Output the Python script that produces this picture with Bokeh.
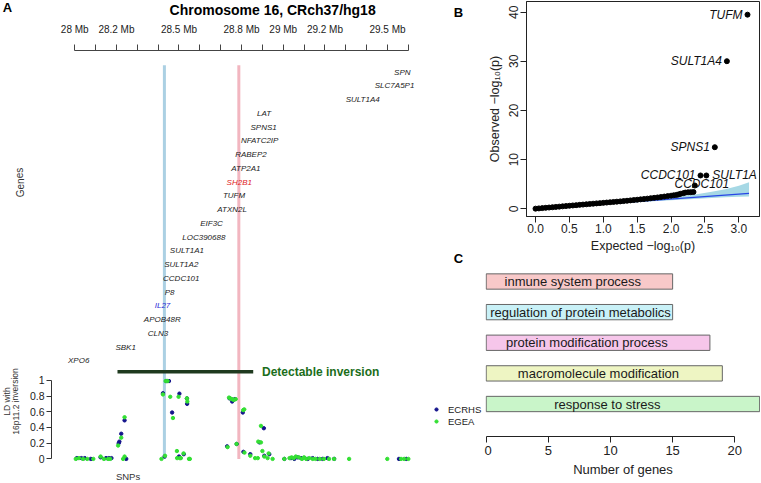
from bokeh.plotting import figure
from bokeh.models import (Range1d, LinearAxis, FixedTicker, PrintfTickFormatter,
                          Legend, LegendItem, ColumnDataSource)
from bokeh.layouts import row, column
from bokeh.embed import file_html
from bokeh.resources import INLINE
from bokeh.core.properties import value

FONT = "Liberation Sans"

# ---------------- Panel A data ----------------
ruler_major = [28.0, 28.2, 28.5, 28.8, 29.0, 29.2, 29.5]
ruler_minor = [28.1, 28.3, 28.4, 28.6, 28.7, 28.9, 29.1, 29.3, 29.4, 29.6]
genes = ["SPN", "SLC7A5P1", "SULT1A4", "LAT", "SPNS1", "NFATC2IP", "RABEP2", "ATP2A1",
         "SH2B1", "TUFM", "ATXN2L", "EIF3C", "LOC390688", "SULT1A1", "SULT1A2", "CCDC101",
         "P8", "IL27", "APOB48R", "CLN3", "SBK1", "XPO6"]
gene_pos = [29.571, 29.534, 29.381, 28.908, 28.906, 28.887, 28.845, 28.821,
            28.789, 28.764, 28.755, 28.656, 28.619, 28.538, 28.511, 28.511,
            28.455, 28.421, 28.420, 28.399, 28.244, 28.019]
gene_highlight = {"SH2B1": "#e02424", "IL27": "#2b2bd6"}
breakpoints = [28.43, 28.787]
breakpoint_colors = ["#abd0e3", "#f2b6c0"]
inversion_span = [28.205, 28.856]
ld_ticks = [0, 0.2, 0.4, 0.6, 0.8, 1]

ecrhs_pos = [28.010, 28.032, 28.048, 28.077, 28.124, 28.150, 28.163, 28.176,
             28.211, 28.214, 28.223, 28.239, 28.247,
             28.423, 28.431, 28.439, 28.452, 28.467, 28.502, 28.500, 28.523, 28.538, 28.539,
             28.731, 28.742, 28.755, 28.760, 28.768, 28.777, 28.806, 28.809, 28.842,
             28.886, 28.907, 28.909, 28.933,
             29.005, 29.037, 29.053, 29.069, 29.085, 29.117, 29.141, 29.165, 29.189,
             29.212, 29.244, 29.555, 29.590]
ecrhs_ld = [0.01, 0.01, 0.01, 0.00, 0.02, 0.01, 0.01, 0.01,
            0.20, 0.22, 0.32, 0.49, 0.00,
            0.835, 0.03, 0.99, 0.99, 0.59, 0.83, 0.03, 0.06, 0.77, 0.70,
            0.16, 0.77, 0.73, 0.75, 0.76, 0.19, 0.59, 0.09, 0.06,
            0.21, 0.39, 0.04, 0.06,
            0.00, 0.01, 0.00, 0.02, 0.01, 0.00, 0.01, 0.00, 0.00,
            0.01, 0.00, 0.00, 0.00]
egea_pos = [28.005, 28.020, 28.040, 28.060, 28.089, 28.124, 28.140, 28.160, 28.170,
            28.208, 28.223, 28.239, 28.232, 28.239,
            28.416, 28.423, 28.433, 28.436, 28.445, 28.458, 28.471, 28.498, 28.490, 28.491,
            28.504, 28.509, 28.522, 28.538, 28.540, 28.548, 28.552,
            28.733, 28.740, 28.746, 28.754, 28.762, 28.772, 28.776, 28.808, 28.813,
            28.814, 28.842,
            28.865, 28.880, 28.893, 28.893, 28.878, 28.900, 28.909, 28.925, 28.930, 28.949,
            29.005, 29.030, 29.040, 29.050, 29.060, 29.075, 29.090, 29.100, 29.110,
            29.125, 29.141, 29.155, 29.175, 29.195, 29.220, 29.244, 29.316, 29.499,
            29.565, 29.580, 29.600]
egea_ld = [0.00, 0.01, 0.00, 0.00, 0.00, 0.03, 0.00, 0.00, 0.00,
           0.17, 0.27, 0.53, 0.00, 0.03,
           0.00, 0.82, 0.04, 0.99, 0.99, 0.79, 0.52, 0.79, 0.10, 0.01,
           0.01, 0.01, 0.07, 0.77, 0.73, 0.00, 0.00,
           0.15, 0.78, 0.77, 0.76, 0.75, 0.76, 0.19, 0.62, 0.63,
           0.08, 0.04,
           0.01, 0.22, 0.42, 0.21, 0.01, 0.10, 0.03, 0.01, 0.07, 0.00,
           0.00, 0.01, 0.02, 0.01, 0.03, 0.02, 0.00, 0.02, 0.00,
           0.01, 0.00, 0.00, 0.00, 0.00, 0.00, 0.00, 0.00, 0.00,
           0.00, 0.00, 0.00]

# ---------------- Panel B data ----------------
qq_expected = [0.00, 0.05, 0.10, 0.15, 0.20, 0.25, 0.30, 0.35, 0.40, 0.45, 0.50, 0.55,
               0.60, 0.65, 0.70, 0.75, 0.80, 0.85, 0.90, 0.95, 1.00, 1.05, 1.10, 1.15,
               1.20, 1.25, 1.30, 1.35, 1.40, 1.45, 1.50, 1.55, 1.60, 1.65, 1.70, 1.75,
               1.80, 1.85, 1.90, 1.95, 2.00, 2.04, 2.08, 2.11, 2.14, 2.18, 2.21, 2.25,
               2.29, 2.33]
qq_observed = [0.03, 0.08, 0.14, 0.20, 0.26, 0.32, 0.38, 0.44, 0.50, 0.56, 0.62, 0.68,
               0.74, 0.80, 0.86, 0.92, 0.98, 1.04, 1.10, 1.15, 1.21, 1.27, 1.33, 1.39,
               1.45, 1.51, 1.57, 1.64, 1.71, 1.78, 1.85, 1.92, 1.99, 2.07, 2.15, 2.23,
               2.31, 2.40, 2.49, 2.58, 2.67, 2.75, 2.83, 2.93, 3.05, 3.18, 3.30, 3.36,
               3.38, 3.42]
hit_genes = ["TUFM", "SULT1A4", "SPNS1", "CCDC101", "SULT1A", "CCDC101"]
hit_expected = [3.127, 2.823, 2.645, 2.434, 2.520, 2.350]
hit_observed = [39.5, 30.03, 12.53, 6.78, 6.78, 4.74]
hit_side = ["left", "left", "left", "left", "right", "center"]
band_x = [0.0, 0.5, 1.0, 1.5, 1.8, 2.0, 2.2, 2.4, 2.6, 2.8, 3.0, 3.15]
band_hi = [0.02, 0.56, 1.10, 1.68, 2.05, 2.33, 2.65, 3.00, 3.45, 4.00, 4.70, 5.40]
band_lo = [0.00, 0.45, 0.90, 1.33, 1.58, 1.74, 1.90, 2.05, 2.20, 2.33, 2.45, 2.50]
null_line = [0.0, 3.15]
b_xticks = [0.0, 0.5, 1.0, 1.5, 2.0, 2.5, 3.0]
b_yticks = [0, 10, 20, 30, 40]

# ---------------- Panel C data ----------------
go_terms = ["inmune system process", "regulation of protein metabolics",
            "protein modification process", "macromolecule modification",
            "response to stress"]
go_counts = [15, 15, 18, 19, 22]
go_colors = ["#f8c9c9", "#c9f1f7", "#f6c6ea", "#eef5c3", "#c9f5c9"]
c_xticks = [0, 5, 10, 15, 20]
# where each bar's caption is centred (layout)
go_label_anchor = [6.97, 7.59, 8.10, 9.03, 9.75]

NAVY = "#14148c"
GREEN = "#33e033"
INK = "#222222"


def bare(p):
    p.outline_line_color = None
    p.xgrid.visible = False
    p.ygrid.visible = False
    return p


def txt(p, x, y, t, size, style="normal", angle=0.0, color=INK, align="center", **kw):
    p.text(x=[x], y=[y], text=[t], angle=angle, text_font=value(FONT), text_font_size=size,
           text_font_style=style, text_color=color, text_align=align,
           text_baseline="middle", **kw)


def strip(width, x0):
    return bare(figure(width=width, height=482, x_range=Range1d(x0, x0 + width),
                       y_range=Range1d(482, 0), min_border=0, x_axis_location=None,
                       y_axis_location=None, output_backend="svg", toolbar_location=None))


# ======================= left label strip (panel A) =======================
s1 = strip(26, 0)
txt(s1, 7, 6.5, "A", "13px", "bold", color="#000000")
txt(s1, 19.5, 182, "Genes", "10px", angle=1.5708, color="#333333")
txt(s1, 6.5, 401, "LD with", "8.5px", angle=1.5708, color="#333333")
txt(s1, 15.0, 401, "16p11.2 inversion", "8.5px", angle=1.5708, color="#333333")

# ======================= Panel A =======================
xr_a = Range1d(27.8885, 29.6823)
hd = bare(figure(width=404, height=20, x_range=xr_a, y_range=Range1d(0, 1),
                 min_border_left=24, min_border_right=5, min_border_top=0, min_border_bottom=0,
                 x_axis_location=None, y_axis_location=None,
                 output_backend="svg", toolbar_location=None))
txt(hd, 28.949, 0.52, "Chromosome 16, CRch37/hg18", "14px", "bold", color="#000000")

pa = bare(figure(width=404, height=462, output_backend="svg", toolbar_location=None,
                 x_range=xr_a, y_range=Range1d(29.855, -1.571),
                 x_axis_location=None, y_axis_location=None,
                 min_border_left=24, min_border_right=5, min_border_top=28, min_border_bottom=0))
pa.extra_y_ranges = {"ld": Range1d(-0.300, 5.1937)}

ruler = LinearAxis(ticker=FixedTicker(ticks=ruler_major, minor_ticks=ruler_minor),
                   formatter=PrintfTickFormatter(format="%g Mb"),
                   bounds=(ruler_major[0], ruler_minor[-1]))
ruler.axis_line_color = "#444444"
ruler.major_tick_line_color = "#444444"
ruler.minor_tick_line_color = "#444444"
ruler.major_tick_out = 6
ruler.major_tick_in = 0
ruler.minor_tick_out = 6
ruler.minor_tick_in = 0
ruler.major_label_standoff = 10
ruler.major_label_text_font = FONT
ruler.major_label_text_font_size = "10px"
ruler.major_label_text_color = INK
pa.add_layout(ruler, "above")

ld_axis = LinearAxis(y_range_name="ld", ticker=FixedTicker(ticks=ld_ticks),
                     formatter=PrintfTickFormatter(format="%g"), bounds=(0, 1))
ld_axis.axis_line_color = "#333333"
ld_axis.major_tick_line_color = "#333333"
ld_axis.major_tick_out = 5
ld_axis.major_tick_in = 0
ld_axis.minor_tick_line_color = None
ld_axis.major_label_standoff = 2
ld_axis.major_label_text_font = FONT
ld_axis.major_label_text_font_size = "10.5px"
ld_axis.major_label_text_color = INK
pa.add_layout(ld_axis, "left")

bp_src = ColumnDataSource(dict(x=breakpoints, y0=[-0.5] * len(breakpoints),
                               y1=[28.14] * len(breakpoints), c=breakpoint_colors))
pa.segment(x0="x", y0="y0", x1="x", y1="y1", color="c", line_width=3, source=bp_src)

gene_src = ColumnDataSource(dict(x=gene_pos, y=list(range(len(genes))), t=genes,
                                 c=[gene_highlight.get(g, INK) for g in genes]))
pa.text(x="x", y="y", text="t", text_color="c", source=gene_src, text_font=value(FONT),
        text_font_style="italic", text_font_size="8px", text_align="center",
        text_baseline="middle")

pa.segment(x0=[inversion_span[0]], y0=[1.109], x1=[inversion_span[1]], y1=[1.109],
           y_range_name="ld", color="#1f3a1f", line_width=3.5)
txt(pa, 28.898, 1.109, "Detectable inversion", "12px", "bold", color="#1b6e1b",
    align="left", y_range_name="ld")

ecrhs_src = ColumnDataSource(dict(x=ecrhs_pos, y=ecrhs_ld))
egea_src = ColumnDataSource(dict(x=egea_pos, y=egea_ld))
pa.scatter("x", "y", source=ecrhs_src, y_range_name="ld", size=3.4, color=NAVY)
pa.scatter("x", "y", source=egea_src, y_range_name="ld", size=3.4, color=GREEN)
txt(pa, 28.2555, -0.218, "SNPs", "9.5px", color="#333333", y_range_name="ld")

# ======================= middle label strip (B, C, legend) =======================
s2 = strip(54, 430)
txt(s2, 458, 12, "B", "13px", "bold", color="#000000")
txt(s2, 458, 258, "C", "13px", "bold", color="#000000")
# legend of panel A's LD series (the series' own points fall outside this strip)
r_e = s2.scatter("x", "y", source=ecrhs_src, size=4.5, color=NAVY)
r_g = s2.scatter("x", "y", source=egea_src, size=4.5, color=GREEN)
leg = Legend(items=[LegendItem(label="ECRHS", renderers=[r_e]),
                    LegendItem(label="EGEA", renderers=[r_g])],
             location=(2, 55), orientation="vertical", glyph_width=8, glyph_height=12,
             label_height=12, label_standoff=8, spacing=0, padding=0, margin=0,
             border_line_color=None, background_fill_alpha=0,
             label_text_font=FONT, label_text_font_size="9.5px", label_text_color=INK)
s2.add_layout(leg)

# ======================= Panel B =======================
pb = figure(width=276, height=255, output_backend="svg", toolbar_location=None,
            x_range=Range1d(-0.133, 3.304), y_range=Range1d(-1.567, 42.18),
            x_axis_location=None, y_axis_location=None,
            min_border_left=42, min_border_right=1, min_border_top=1, min_border_bottom=39)
pb.xgrid.visible = False
pb.ygrid.visible = False
pb.outline_line_color = INK
pb.outline_line_width = 1

bx = LinearAxis(ticker=FixedTicker(ticks=b_xticks), formatter=PrintfTickFormatter(format="%.1f"),
                axis_label="Expected \u2212log\u2081\u2080(p)")
by = LinearAxis(ticker=FixedTicker(ticks=b_yticks), axis_label="Observed \u2212log\u2081\u2080(p)")
for ax in (bx, by):
    ax.axis_line_color = INK
    ax.major_tick_line_color = INK
    ax.major_tick_out = 6
    ax.major_tick_in = 0
    ax.minor_tick_line_color = None
    ax.major_label_text_font = FONT
    ax.major_label_text_font_size = "12px"
    ax.major_label_text_color = INK
    ax.axis_label_text_font = FONT
    ax.axis_label_text_font_size = "12.5px"
    ax.axis_label_text_font_style = "normal"
    ax.axis_label_text_color = INK
bx.major_label_standoff = 1
bx.axis_label_standoff = 3
by.major_label_orientation = "vertical"
by.major_label_standoff = 2
by.axis_label_standoff = 5
pb.add_layout(bx, "below")
pb.add_layout(by, "left")

pb.varea(x=band_x, y1=band_lo, y2=band_hi, color="#a6d8e5")
pb.line(null_line, null_line, color="#2746e6", line_width=1.2)
pb.scatter(qq_expected, qq_observed, size=5, color="#000000")
pb.scatter(hit_expected, hit_observed, size=5, color="#000000")
for g, ex, ob, side in zip(hit_genes, hit_expected, hit_observed, hit_side):
    if side == "left":
        al, xo, yo = "right", -5, 0
    elif side == "right":
        al, xo, yo = "left", 6, 0
    else:
        al, xo, yo = "center", 7, -2
    pb.text(x=[ex], y=[ob], text=[g], x_offset=xo, y_offset=yo, text_align=al,
            text_baseline="middle", text_font=value(FONT), text_font_style="italic",
            text_font_size="12px", text_color="#111111")

# ======================= Panel C =======================
pc = bare(figure(width=276, height=227, output_backend="svg", toolbar_location=None,
                 x_range=Range1d(-0.056, 22.07), y_range=Range1d(-0.061, 5.849),
                 x_axis_location=None, y_axis_location=None,
                 min_border_left=1, min_border_right=0, min_border_top=0, min_border_bottom=46))

ypos = list(range(len(go_terms), 0, -1))
go_src = ColumnDataSource(dict(y=ypos, right=go_counts, c=go_colors, t=go_terms,
                               tx=go_label_anchor))
pc.hbar(y="y", left=0, right="right", height=0.5, fill_color="c", line_color="#666666",
        line_width=1, source=go_src)
pc.text(x="tx", y="y", text="t", source=go_src, text_align="center", text_baseline="middle",
        text_font=value(FONT), text_font_size="13px", text_color="#1a1a1a")

cx = LinearAxis(ticker=FixedTicker(ticks=c_xticks), axis_label="Number of genes",
                bounds=(c_xticks[0], c_xticks[-1]))
cx.axis_line_color = INK
cx.major_tick_line_color = INK
cx.major_tick_out = 6
cx.major_tick_in = 0
cx.minor_tick_line_color = None
cx.major_label_standoff = 3
cx.major_label_text_font = FONT
cx.major_label_text_font_size = "13px"
cx.major_label_text_color = INK
cx.axis_label_standoff = 4
cx.axis_label_text_font = FONT
cx.axis_label_text_font_size = "13px"
cx.axis_label_text_font_style = "normal"
cx.axis_label_text_color = INK
pc.add_layout(cx, "below")

layout = row(column(s1), column(hd, pa), column(s2), column(pb, row(pc)))
open("out.html", "w").write(file_html(layout, INLINE))
